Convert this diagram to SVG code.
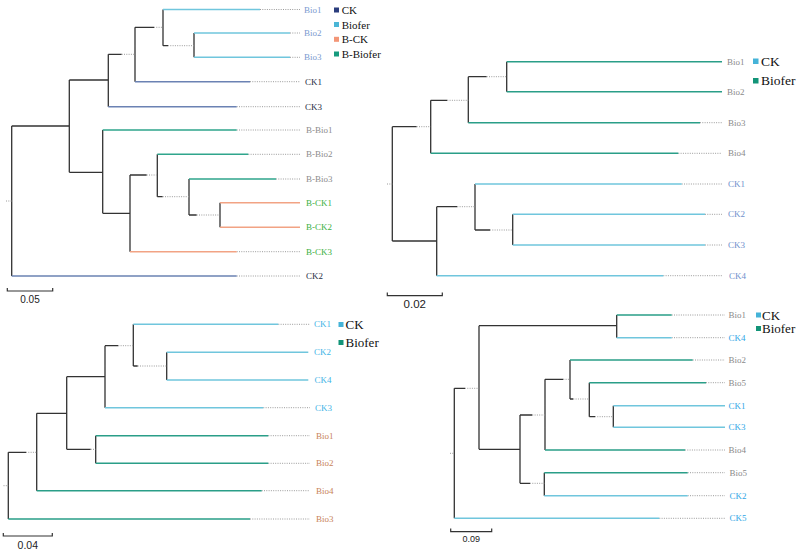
<svg xmlns="http://www.w3.org/2000/svg" width="800" height="553" viewBox="0 0 800 553">
<style>
.k{fill:none;stroke:#333;stroke-width:1.3}
.d{fill:none;stroke:#9a9a9a;stroke-width:1;stroke-dasharray:1 1.3}
.cy{fill:none;stroke:#70c6dd;stroke-width:1.6}
.tl{fill:none;stroke:#2a9e88;stroke-width:1.6}
.sb{fill:none;stroke:#6b82b3;stroke-width:1.6}
.sa{fill:none;stroke:#f2a384;stroke-width:1.6}
.tl1{fill:none;stroke:#2fa58c;stroke-width:1.6}
.lab{font-family:"Liberation Serif",serif;font-size:9px}
.leg{font-family:"Liberation Serif",serif;fill:#111}
.sc{font-family:"Liberation Sans",Arial,sans-serif;fill:#222;text-anchor:middle}
.bar{fill:none;stroke:#333;stroke-width:1.2}
</style>
<rect width="800" height="553" fill="#fff"/>

<!-- Panel A -->
<g id="treeA">
<g id="treeA-connectors">
<path class="k" d="M11.7,126V276M11.7,126H69.3M69.3,80V172.3M69.3,80H108.3M108.3,54.3V106.7M108.3,54.3H121.7M135,27.3V81.7M135,27.3H154M163,9.5V45.7M163,45.7H168M194,33V57.3M69.3,172.3H102.7M102.7,130V213.3M102.7,213.3H130M130,175V251.7M130,175H146.7M157.3,154.3V196.7M157.3,196.7H162.7M189,179V215M189,215H196.7M220,202.7V227.3"/>
<path class="d" d="M6,201H11.7M121.7,54.3H135M154,27.3H163M168,45.7H194M146.7,175H157.3M162.7,196.7H189M196.7,215H220M260,9.5H300M290,33H300M290,57.3H300M250,81.7H300M236.7,106.7H300M236.7,130H300M248.3,154.3H300M276,179H300M236.7,251.7H300M236.7,276H300"/>
<path class="cy" d="M163,9.5H260M194,33H290M194,57.3H290"/>
<path class="sb" d="M135,81.7H250M108.3,106.7H236.7M11.7,276H236.7"/>
<path class="tl1" d="M102.7,130H236.7M157.3,154.3H248.3M189,179H276"/>
<path class="sa" d="M220,202.7H300M220,227.3H300M130,251.7H236.7"/>
</g>
<g id="A-Bio1"><text class="lab" x="304" y="12.5" fill="#7a9ad0">Bio1</text></g>
<g id="A-Bio2"><text class="lab" x="304" y="36" fill="#7a9ad0">Bio2</text></g>
<g id="A-Bio3"><text class="lab" x="304" y="60.3" fill="#7a9ad0">Bio3</text></g>
<g id="A-CK1"><text class="lab" x="305" y="84.7" fill="#1f2d44">CK1</text></g>
<g id="A-CK3"><text class="lab" x="305" y="109.7" fill="#1f2d44">CK3</text></g>
<g id="A-BBio1"><text class="lab" x="306" y="133" fill="#8c8c8c">B-Bio1</text></g>
<g id="A-BBio2"><text class="lab" x="306" y="157.3" fill="#8c8c8c">B-Bio2</text></g>
<g id="A-BBio3"><text class="lab" x="306" y="182" fill="#8c8c8c">B-Bio3</text></g>
<g id="A-BCK1"><text class="lab" x="306" y="205.7" fill="#3cb043">B-CK1</text></g>
<g id="A-BCK2"><text class="lab" x="306" y="230.3" fill="#3cb043">B-CK2</text></g>
<g id="A-BCK3"><text class="lab" x="306" y="254.7" fill="#3cb043">B-CK3</text></g>
<g id="A-CK2"><text class="lab" x="306" y="279" fill="#1f2d44">CK2</text></g>
<g id="A-legend">
<rect x="334" y="7.5" width="5" height="5" fill="#2b3d7d"/><text class="leg" x="341.7" y="14" font-size="11">CK</text>
<rect x="334" y="22" width="5" height="5" fill="#4bb6d6"/><text class="leg" x="341.7" y="28.5" font-size="11">Biofer</text>
<rect x="334" y="36.8" width="5" height="5" fill="#f39677"/><text class="leg" x="341.7" y="43.3" font-size="11">B-CK</text>
<rect x="334" y="51.5" width="5" height="5" fill="#169b7e"/><text class="leg" x="341.7" y="58" font-size="11">B-Biofer</text>
</g>
<g id="A-scale"><path class="bar" d="M7.3,288V291H52.7V288"/><text class="sc" x="30" y="302.7" font-size="10">0.05</text></g>
</g>

<!-- Panel B -->
<g id="treeB">
<g id="treeB-connectors">
<path class="k" d="M392.3,126.7V241M392.3,126.7H416.7M430.7,100.3V153.3M430.7,100.3H447.3M468.3,76.7V122.7M468.3,76.7H486.7M506.7,61.7V91.7M392.3,241H436.7M436.7,206.7V275.7M436.7,206.7H457.3M475,184V230M475,230H490M512.7,214.3V245"/>
<path class="d" d="M387,184H392.3M416.7,126.7H430.7M447.3,100.3H468.3M486.7,76.7H506.7M457.3,206.7H475M490,230H512.7M700,122.7H722M678.3,153.3H722M681.7,184H722M705,214.3H722M705,245H722M663.3,275.7H722"/>
<path class="tl" d="M506.7,61.7H722M506.7,91.7H722M468.3,122.7H700M430.7,153.3H678.3"/>
<path class="cy" d="M475,184H681.7M512.7,214.3H705M512.7,245H705M436.7,275.7H663.3"/>
</g>
<g id="B-Bio1"><text class="lab" x="727" y="64.7" fill="#8a8a8a" font-size="8.5">Bio1</text></g>
<g id="B-Bio2"><text class="lab" x="727" y="94.7" fill="#8a8a8a" font-size="8.5">Bio2</text></g>
<g id="B-Bio3"><text class="lab" x="728" y="125.7" fill="#8a8a8a" font-size="8.5">Bio3</text></g>
<g id="B-Bio4"><text class="lab" x="728" y="156.3" fill="#8a8a8a" font-size="8.5">Bio4</text></g>
<g id="B-CK1"><text class="lab" x="728" y="187" fill="#6f90cc" font-size="8.5">CK1</text></g>
<g id="B-CK2"><text class="lab" x="728" y="217.3" fill="#6f90cc" font-size="8.5">CK2</text></g>
<g id="B-CK3"><text class="lab" x="728" y="248" fill="#6f90cc" font-size="8.5">CK3</text></g>
<g id="B-CK4"><text class="lab" x="729" y="278.7" fill="#6f90cc" font-size="8.5">CK4</text></g>
<g id="B-legend">
<rect x="753" y="58.5" width="5.5" height="5.5" fill="#45b3d8"/><text class="leg" x="761" y="65.5" font-size="13.5">CK</text>
<rect x="753" y="78" width="5.5" height="5.5" fill="#129478"/><text class="leg" x="761" y="85" font-size="13.5">Biofer</text>
</g>
<g id="B-scale"><path class="bar" d="M387.3,292.5V295.7H442.3V292.5"/><text class="sc" x="414.8" y="308.3" font-size="11.5">0.02</text></g>
</g>

<!-- Panel C -->
<g id="treeC">
<g id="treeC-connectors">
<path class="k" d="M8.3,452.3V519M8.3,452.3H26M36.7,413.3V490.7M36.7,413.3H66.7M66.7,376.7V449.3M66.7,376.7H105M105,345.7V407.7M105,345.7H118.3M133.3,324.3V366M133.3,366H137.7M166.7,352.3V380M66.7,449.3H90.7M95.7,435.7V463.3"/>
<path class="d" d="M3.5,485.7H8.3M26,452.3H36.7M118.3,345.7H133.3M137.7,366H166.7M90.7,449.3H95.7M278.3,324.3H310M263.3,407.7H310M268.3,435.7H310M268.3,463.3H310M261.7,490.7H310M250,519H310"/>
<path class="cy" d="M133.3,324.3H278.3M166.7,352.3H308.3M166.7,380H308.3M105,407.7H263.3"/>
<path class="tl" d="M95.7,435.7H268.3M95.7,463.3H268.3M36.7,490.7H261.7M8.3,519H250"/>
</g>
<g id="C-CK1"><text class="lab" x="314" y="327.3" fill="#3fb4e6" font-size="8.5">CK1</text></g>
<g id="C-CK2"><text class="lab" x="314" y="355.3" fill="#3fb4e6" font-size="8.5">CK2</text></g>
<g id="C-CK4"><text class="lab" x="314.5" y="383" fill="#3fb4e6" font-size="8.5">CK4</text></g>
<g id="C-CK3"><text class="lab" x="315" y="410.7" fill="#3fb4e6" font-size="8.5">CK3</text></g>
<g id="C-Bio1"><text class="lab" x="316" y="438.7" fill="#c8835a" font-size="8.5">Bio1</text></g>
<g id="C-Bio2"><text class="lab" x="316" y="466.3" fill="#c8835a" font-size="8.5">Bio2</text></g>
<g id="C-Bio4"><text class="lab" x="316" y="493.7" fill="#c8835a" font-size="8.5">Bio4</text></g>
<g id="C-Bio3"><text class="lab" x="316" y="522" fill="#c8835a" font-size="8.5">Bio3</text></g>
<g id="C-legend">
<rect x="338.5" y="322" width="5" height="5" fill="#45b3d8"/><text class="leg" x="345.5" y="329" font-size="13">CK</text>
<rect x="338.5" y="340" width="5" height="5" fill="#129478"/><text class="leg" x="345.5" y="347" font-size="13">Biofer</text>
</g>
<g id="C-scale"><path class="bar" d="M3.3,533V536H52.3V533"/><text class="sc" x="27.8" y="549.3" font-size="10.5">0.04</text></g>
</g>

<!-- Panel D -->
<g id="treeD">
<g id="treeD-connectors">
<path class="k" d="M454.3,388.3V518.3M454.3,388.3H465M479,325.7V449.3M479,325.7H616.7M616.7,315V337.7M479,449.3H520M520,415V483.3M520,415H532.3M545,379.3V450M545,379.3H563.3M570,360V399M570,399H573.3M589.3,382.7V416.7M589.3,416.7H595M613.3,405.7V427.3M520,483.3H530M544.3,472.7V495.7"/>
<path class="d" d="M450,453.3H454.3M465,388.3H479M532.3,415H545M563.3,379.3H570M573.3,399H589.3M595,416.7H613.3M530,483.3H544.3M671.7,315H725M671.7,337.7H725M692.7,360H725M706,382.7H725M685,450H725M687.7,472.7H725M687.7,495.7H725M659.3,518.3H725"/>
<path class="tl" d="M616.7,315H671.7M570,360H692.7M589.3,382.7H706M545,450H685M544.3,472.7H687.7"/>
<path class="cy" d="M616.7,337.7H671.7M613.3,405.7H725M613.3,427.3H725M544.3,495.7H687.7M454.3,518.3H659.3"/>
</g>
<g id="D-Bio1"><text class="lab" x="728.5" y="318" fill="#8a8a8a">Bio1</text></g>
<g id="D-CK4"><text class="lab" x="728.5" y="340.7" fill="#2ea6e6">CK4</text></g>
<g id="D-Bio2"><text class="lab" x="728.5" y="363" fill="#8a8a8a">Bio2</text></g>
<g id="D-Bio5a"><text class="lab" x="728.5" y="385.7" fill="#8a8a8a">Bio5</text></g>
<g id="D-CK1"><text class="lab" x="728.5" y="408.7" fill="#2ea6e6">CK1</text></g>
<g id="D-CK3"><text class="lab" x="728.5" y="430.3" fill="#2ea6e6">CK3</text></g>
<g id="D-Bio4"><text class="lab" x="728.5" y="453" fill="#8a8a8a">Bio4</text></g>
<g id="D-Bio5b"><text class="lab" x="729.5" y="475.7" fill="#8a8a8a">Bio5</text></g>
<g id="D-CK2"><text class="lab" x="729.5" y="498.7" fill="#2ea6e6">CK2</text></g>
<g id="D-CK5"><text class="lab" x="729.5" y="521.3" fill="#2ea6e6">CK5</text></g>
<g id="D-legend">
<rect x="756" y="312.5" width="5" height="5" fill="#45b3d8"/><text class="leg" x="762" y="319.5" font-size="13">CK</text>
<rect x="756" y="326" width="5" height="5" fill="#129478"/><text class="leg" x="762" y="333" font-size="13">Biofer</text>
</g>
<g id="D-scale"><path class="bar" d="M450.7,528.5V531.7H491.7V528.5"/><text class="sc" x="471.2" y="542.3" font-size="9">0.09</text></g>
</g>
</svg>
